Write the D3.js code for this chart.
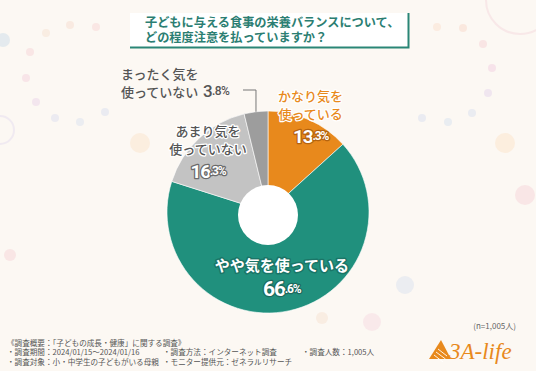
<!DOCTYPE html>
<html>
<head>
<meta charset="utf-8">
<script src="https://cdn.jsdelivr.net/npm/d3@7"></script>
<style>
  html, body { margin: 0; padding: 0; background: #fcf8f3; }
  svg { display: block; font-family: "Noto Sans CJK JP", "Noto Sans", sans-serif; }
</style>
</head>
<body>
<div id="chart"></div>
<script>
// answers, clockwise from 12 o'clock
const categories = ['かなり気を使っている', 'やや気を使っている', 'あまり気を使っていない', 'まったく気を使っていない'];
const labelLines = [['かなり気を', '使っている'], ['やや気を使っている'], ['あまり気を', '使っていない'], ['まったく気を', '使っていない']];
const shares = [13.3, 66.6, 16.3, 3.8];
const sliceColors = ['#e8891c', '#20907d', '#c3c3c3', '#9d9d9d'];

const title = ['子どもに与える食事の栄養バランスについて、', 'どの程度注意を払っていますか？'];
const sampleNote = '(n=1,005人)';
const surveyNotes = [
  ['《調査概要：「子どもの成長・健康」に関する調査》', '・調査期間：2024/01/15～2024/01/16', '・調査対象：小・中学生の子どもがいる母親'],
  ['', '・調査方法：インターネット調査', '・モニター提供元：ゼネラルリサーチ'],
  ['', '・調査人数：1,005人', '']
];

const W = 536, H = 371;
const svg = d3.select('#chart').append('svg').attr('width', W).attr('height', H);

svg.append('rect').attr('width', W).attr('height', H).attr('fill', '#fcf8f3');

// faint decorative dots in the background
const deco = svg.append('g').attr('opacity', 0.35);
[[3, 40, 7, '#b9d3e6'], [70, 25, 4, '#f6d3c0'], [96, 27, 4, '#f7c9c9'], [46, 33, 4, '#f6d9c4'],
 [30, 52, 4, '#f4c6cc'], [26, 78, 4, '#f1c3d6'], [36, 102, 4, '#e5c7e6'], [55, 118, 4, '#cfd4ee'],
 [80, 122, 4, '#cdd9ee'], [105, 112, 4, '#c9d5ef'], [140, 143, 10, '#fbdcbc'],
 [437, 27, 4, '#fbd6bf'], [463, 28, 4, '#f9cdb9'], [483, 44, 4, '#f5c2cb'], [492, 68, 4, '#eebfda'],
 [488, 93, 4, '#dcc6ea'], [472, 113, 4, '#c9d6ee'], [448, 122, 4, '#c6d9ee'], [422, 118, 4, '#cad4ef'],
 [505, 143, 10, '#fddcb9'], [525, 195, 10, '#f6c6cf'], [405, 285, 9, '#cdd9ee'], [372, 322, 9, '#f6cfdc'],
 [10, 255, 6, '#f4c6cc'], [322, 318, 6, '#f6d9c4']]
  .forEach(([x, y, r, c]) => deco.append('circle').attr('cx', x).attr('cy', y).attr('r', r).attr('fill', c));
deco.append('circle').attr('cx', 0).attr('cy', 130).attr('r', 14)
  .attr('fill', 'none').attr('stroke', '#dcd2ee').attr('stroke-width', 2);
deco.append('circle').attr('cx', 520).attr('cy', 0).attr('r', 34)
  .attr('fill', 'none').attr('stroke', '#f2cbd4').attr('stroke-width', 2);

// title box
const tb = svg.append('g');
tb.append('rect').attr('x', 130).attr('y', 13).attr('width', 279).attr('height', 35).attr('fill', '#fff');
tb.append('path').attr('d', 'M130,47.5H408.5V13').attr('fill', 'none').attr('stroke', '#2a8676').attr('stroke-width', 2);
tb.append('text')
  .attr('font-size', 12.2).attr('font-weight', 700).attr('fill', '#2b7e72')
  .selectAll('tspan').data(title).join('tspan')
  .attr('x', 145).attr('y', (d, i) => 26.5 + i * 15)
  .text(d => d);

// pie
const cx = 268, cy = 212, R = 101;
const pie = d3.pie().sort(null).value(d => d.value);
const arcs = pie(shares.map((v, i) => ({ value: v, i })));
const arc = d3.arc().innerRadius(0).outerRadius(R);
const g = svg.append('g').attr('transform', `translate(${cx},${cy})`);

g.selectAll('path.slice').data(arcs).join('path')
  .attr('class', 'slice')
  .attr('d', arc)
  .attr('fill', d => sliceColors[d.data.i])
  .attr('stroke', '#fff').attr('stroke-width', 0.6);

g.append('circle').attr('cx', 0).attr('cy', 3).attr('r', 30).attr('fill', '#fff');

// labels
const labelRadius = [105, 65, 88, null];
const lineOffsets = [[-21, -3, 20], [-11, 13], [-17, 1, 23]];
const textColor = ['#e8891c', '#ffffff', '#555555', '#555555'];
const textHalo = ['#ffffff', '#1b7567', '#ffffff', null];
const pctStroke = ['#b5630f', '#1b6a5d', '#6b6b6b', null];
const nameSize = [13, 15, 13, 13];
const pctSize = [19, 21, 19, 17];

function pctText(sel, v, big, small) {
  const [a, b] = v.toFixed(1).split('.');
  sel.append('tspan').attr('font-size', big).text(a);
  sel.append('tspan').attr('font-size', small).text('.' + b + '%');
}

arcs.forEach((d, k) => {
  const i = d.data.i;
  if (labelRadius[i] == null) return;
  const [x, y] = d3.arc().innerRadius(labelRadius[i]).outerRadius(labelRadius[i]).centroid(d);
  const lg = g.append('g').attr('transform', `translate(${x},${y})`);
  labelLines[i].forEach((line, j) => {
    const t = lg.append('text').attr('y', lineOffsets[i][j]).attr('text-anchor', 'middle')
      .attr('dominant-baseline', 'central').attr('font-size', nameSize[i]).attr('font-weight', i == 1 ? 700 : 500)
      .attr('fill', textColor[i]).text(line);
    if (textHalo[i]) t.attr('stroke', textHalo[i]).attr('stroke-width', i == 1 ? 3 : 2.5)
      .attr('stroke-linejoin', 'round').attr('paint-order', 'stroke');
  });
  const p = lg.append('text').attr('y', lineOffsets[i][labelLines[i].length]).attr('text-anchor', 'middle')
    .attr('dominant-baseline', 'central').attr('font-family', 'Roboto, sans-serif').attr('font-weight', 700)
    .attr('letter-spacing', -1.2).attr('fill', '#fff')
    .attr('stroke', pctStroke[i]).attr('stroke-width', 2.6).attr('stroke-linejoin', 'round').attr('paint-order', 'stroke');
  pctText(p, shares[i], pctSize[i], 12);
});

// smallest slice: label outside with leader line
{
  const d = arcs[3];
  const [ex, ey] = d3.arc().innerRadius(R).outerRadius(R).centroid(d);
  const ly = 90 - cy;
  g.append('path').attr('d', `M${ex},${ey}V${ly}H${-25}`)
    .attr('fill', 'none').attr('stroke', '#777').attr('stroke-width', 1);
  labelLines[3].forEach((line, j) => {
    g.append('text').attr('x', 121 - cx).attr('y', 73 - cy + j * 18).attr('dominant-baseline', 'central')
      .attr('font-size', nameSize[3]).attr('font-weight', 500).attr('fill', '#555').text(line);
  });
  const p = g.append('text').attr('x', 203 - cx).attr('y', 91 - cy).attr('dominant-baseline', 'central')
    .attr('font-family', 'Roboto, sans-serif').attr('font-weight', 500).attr('letter-spacing', -0.6).attr('fill', '#555');
  pctText(p, shares[3], pctSize[3], 12);
}

// footer
svg.append('text').attr('x', 516).attr('y', 325).attr('text-anchor', 'end').attr('dominant-baseline', 'central')
  .attr('font-size', 8).attr('fill', '#666').text(sampleNote);

const colX = [7, 163, 302];
surveyNotes.forEach((col, c) => col.forEach((line, r) => {
  if (!line) return;
  svg.append('text').attr('x', colX[c]).attr('y', 342 + r * 9.5).attr('dominant-baseline', 'central')
    .attr('font-size', 7.6).attr('fill', '#555').text(line);
}));

// logo
const logo = svg.append('g').attr('transform', 'translate(429,340)');
logo.append('path').attr('d', 'M0,19L12,0L22,19Z').attr('fill', '#e8891c');
[[5, 13, 9, 13], [7, 10, 11.5, 10], [9, 7, 13, 7]].forEach(([x1, y1, x2, y2]) =>
  logo.append('line').attr('x1', x1).attr('y1', y1 + 2).attr('x2', x2 + 5).attr('y2', y2 + 9)
    .attr('stroke', '#fff').attr('stroke-width', 0.9));
logo.append('text').attr('x', 20).attr('y', 19).attr('font-family', '"Liberation Serif", serif')
  .attr('font-style', 'italic').attr('font-size', 23).attr('fill', '#e8891c').text('3A-life');
</script>
</body>
</html>
